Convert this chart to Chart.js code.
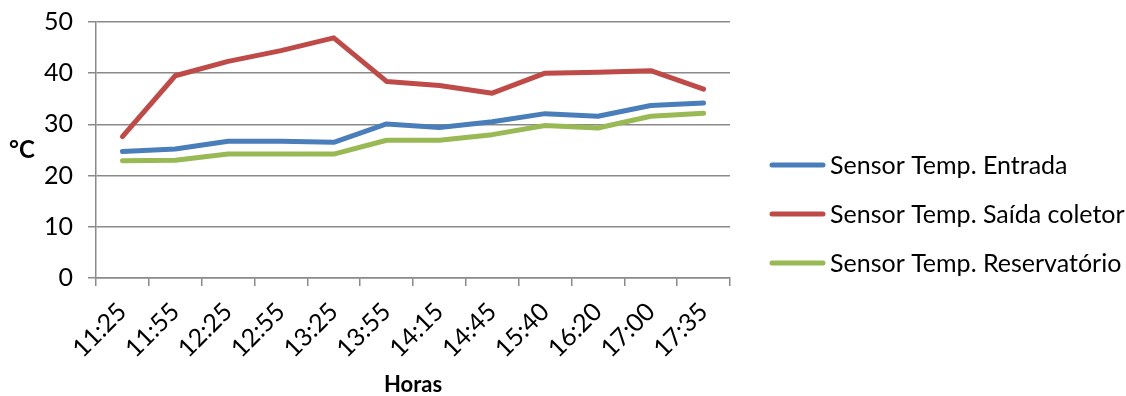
<!DOCTYPE html>
<html>
<head>
<meta charset="utf-8">
<script src="https://cdn.jsdelivr.net/npm/chart.js@4/dist/chart.umd.min.js"></script>
<style>
  html, body { margin: 0; padding: 0; background: #fff; }
  #wrap { width: 1126px; height: 396px; }
</style>
</head>
<body>
<div id="wrap"><canvas id="c" width="1126" height="396"></canvas></div>
<script>
// Hora de cada leitura
const horas = ['11:25', '11:55', '12:25', '12:55', '13:25', '13:55', '14:15', '14:45', '15:40', '16:20', '17:00', '17:35'];

// Temperaturas medidas (°C)
const entrada      = [24.7, 25.2, 26.7, 26.7, 26.5, 30.1, 29.4, 30.5, 32.1, 31.6, 33.7, 34.2];
const saidaColetor = [27.6, 39.5, 42.3, 44.4, 46.9, 38.4, 37.6, 36.1, 40.0, 40.2, 40.5, 36.9];
const reservatorio = [22.9, 23.0, 24.2, 24.2, 24.2, 26.9, 26.9, 28.0, 29.8, 29.3, 31.6, 32.2];

const seriesNames = ['Sensor Temp. Entrada', 'Sensor Temp. Saída coletor', 'Sensor Temp. Reservatório'];
const yTicks = [0, 10, 20, 30, 40, 50];

const FONT = 'Lato, "Open Sans", sans-serif';
const GRID = '#8a8a8a';

function serie(label, data, color) {
  return {
    label, data,
    borderColor: color,
    backgroundColor: color,
    borderWidth: 5,
    pointRadius: 0,
    pointHoverRadius: 0,
    tension: 0,
    borderCapStyle: 'round',
    borderJoinStyle: 'round',
    fill: false
  };
}

// Legenda à direita e rótulo "°C" horizontal do eixo vertical
const extras = {
  id: 'extras',
  afterDraw(chart) {
    const ctx = chart.ctx;
    const area = chart.chartArea;
    ctx.save();
    ctx.fillStyle = '#000';
    ctx.font = 'bold 24px ' + FONT;
    ctx.textAlign = 'center';
    ctx.textBaseline = 'middle';
    ctx.fillText('°C', 22, (area.top + area.bottom) / 2);

    const x0 = 770, len = 55, top = 165, step = 49;
    ctx.font = '25px ' + FONT;
    ctx.textAlign = 'left';
    chart.data.datasets.forEach((ds, i) => {
      const y = top + i * step;
      ctx.strokeStyle = ds.borderColor;
      ctx.lineWidth = 5;
      ctx.lineCap = 'round';
      ctx.beginPath();
      ctx.moveTo(x0 + 2, y);
      ctx.lineTo(x0 + len - 2, y);
      ctx.stroke();
      ctx.fillStyle = '#000';
      ctx.fillText(ds.label, x0 + len + 5, y + 1);
    });
    ctx.restore();
  }
};

new Chart(document.getElementById('c'), {
  type: 'line',
  data: {
    labels: horas,
    datasets: [
      serie(seriesNames[0], entrada, '#4a7ebb'),
      serie(seriesNames[1], saidaColetor, '#be4b48'),
      serie(seriesNames[2], reservatorio, '#98b954')
    ]
  },
  options: {
    responsive: false,
    animation: false,
    devicePixelRatio: 1,
    layout: { padding: { top: 22, right: 396, bottom: 0, left: 0 } },
    plugins: {
      legend: { display: false },
      tooltip: { enabled: false }
    },
    scales: {
      x: {
        offset: true,
        grid: { offset: true, drawOnChartArea: false, drawTicks: true, tickLength: 8, color: GRID, lineWidth: 1.5 },
        border: { display: true, color: GRID, width: 1.5 },
        ticks: { minRotation: 45, maxRotation: 45, autoSkip: false, color: '#000', font: { family: FONT, size: 25 }, padding: 11 },
        title: { display: true, text: 'Horas', color: '#000', font: { family: FONT, size: 22, weight: 'bold', lineHeight: 1 }, padding: { top: 0, bottom: 0 } },
        afterFit(scale) { scale.height = 118; }
      },
      y: {
        min: 0,
        max: 50,
        afterBuildTicks(scale) { scale.ticks = yTicks.map(v => ({ value: v })); },
        grid: { color: GRID, lineWidth: 1.5, tickLength: 8 },
        border: { display: true, color: GRID, width: 1.5 },
        ticks: { color: '#000', font: { family: FONT, size: 25 }, padding: 15 },
        afterFit(scale) {
          scale.width = 96;
          scale.paddingTop = 0;
          scale.paddingBottom = 0;
        }
      }
    }
  },
  plugins: [extras]
});
</script>
</body>
</html>
